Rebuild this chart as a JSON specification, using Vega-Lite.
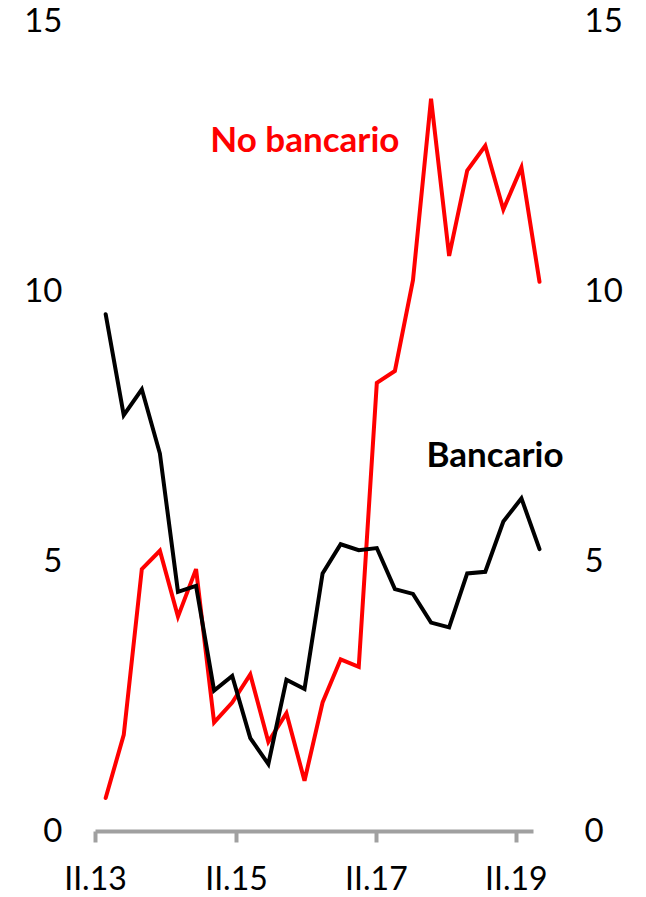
{
  "$schema": "https://vega.github.io/schema/vega-lite/v6.json",
  "width": 438,
  "height": 810,
  "autosize": "none",
  "padding": {"left": 95, "top": 21, "right": 113, "bottom": 66},
  "config": {"view": {"stroke": null}, "font": "Lato"},
  "datasets": {
    "series": [
      {"i": 0, "q": "II.13", "serie": "No bancario", "v": 0.61},
      {"i": 1, "q": "III.13", "serie": "No bancario", "v": 1.78},
      {"i": 2, "q": "IV.13", "serie": "No bancario", "v": 4.85},
      {"i": 3, "q": "I.14", "serie": "No bancario", "v": 5.19},
      {"i": 4, "q": "II.14", "serie": "No bancario", "v": 3.97},
      {"i": 5, "q": "III.14", "serie": "No bancario", "v": 4.85},
      {"i": 6, "q": "IV.14", "serie": "No bancario", "v": 2.01},
      {"i": 7, "q": "I.15", "serie": "No bancario", "v": 2.38},
      {"i": 8, "q": "II.15", "serie": "No bancario", "v": 2.90},
      {"i": 9, "q": "III.15", "serie": "No bancario", "v": 1.65},
      {"i": 10, "q": "IV.15", "serie": "No bancario", "v": 2.18},
      {"i": 11, "q": "I.16", "serie": "No bancario", "v": 0.93},
      {"i": 12, "q": "II.16", "serie": "No bancario", "v": 2.38},
      {"i": 13, "q": "III.16", "serie": "No bancario", "v": 3.18},
      {"i": 14, "q": "IV.16", "serie": "No bancario", "v": 3.04},
      {"i": 15, "q": "I.17", "serie": "No bancario", "v": 8.30},
      {"i": 16, "q": "II.17", "serie": "No bancario", "v": 8.52},
      {"i": 17, "q": "III.17", "serie": "No bancario", "v": 10.20},
      {"i": 18, "q": "IV.17", "serie": "No bancario", "v": 13.56},
      {"i": 19, "q": "I.18", "serie": "No bancario", "v": 10.65},
      {"i": 20, "q": "II.18", "serie": "No bancario", "v": 12.23},
      {"i": 21, "q": "III.18", "serie": "No bancario", "v": 12.69},
      {"i": 22, "q": "IV.18", "serie": "No bancario", "v": 11.51},
      {"i": 23, "q": "I.19", "serie": "No bancario", "v": 12.29},
      {"i": 24, "q": "II.19", "serie": "No bancario", "v": 10.17},
      {"i": 0, "q": "II.13", "serie": "Bancario", "v": 9.57},
      {"i": 1, "q": "III.13", "serie": "Bancario", "v": 7.70},
      {"i": 2, "q": "IV.13", "serie": "Bancario", "v": 8.18},
      {"i": 3, "q": "I.14", "serie": "Bancario", "v": 6.99},
      {"i": 4, "q": "II.14", "serie": "Bancario", "v": 4.43},
      {"i": 5, "q": "III.14", "serie": "Bancario", "v": 4.54},
      {"i": 6, "q": "IV.14", "serie": "Bancario", "v": 2.60},
      {"i": 7, "q": "I.15", "serie": "Bancario", "v": 2.87},
      {"i": 8, "q": "II.15", "serie": "Bancario", "v": 1.72},
      {"i": 9, "q": "III.15", "serie": "Bancario", "v": 1.24},
      {"i": 10, "q": "IV.15", "serie": "Bancario", "v": 2.80},
      {"i": 11, "q": "I.16", "serie": "Bancario", "v": 2.63},
      {"i": 12, "q": "II.16", "serie": "Bancario", "v": 4.77},
      {"i": 13, "q": "III.16", "serie": "Bancario", "v": 5.31},
      {"i": 14, "q": "IV.16", "serie": "Bancario", "v": 5.20},
      {"i": 15, "q": "I.17", "serie": "Bancario", "v": 5.24},
      {"i": 16, "q": "II.17", "serie": "Bancario", "v": 4.48},
      {"i": 17, "q": "III.17", "serie": "Bancario", "v": 4.39},
      {"i": 18, "q": "IV.17", "serie": "Bancario", "v": 3.86},
      {"i": 19, "q": "I.18", "serie": "Bancario", "v": 3.77},
      {"i": 20, "q": "II.18", "serie": "Bancario", "v": 4.77},
      {"i": 21, "q": "III.18", "serie": "Bancario", "v": 4.80},
      {"i": 22, "q": "IV.18", "serie": "Bancario", "v": 5.73},
      {"i": 23, "q": "I.19", "serie": "Bancario", "v": 6.16},
      {"i": 24, "q": "II.19", "serie": "Bancario", "v": 5.22}
    ],
    "labels": [
      {"serie": "No bancario", "i": 11.02, "v": 12.58},
      {"serie": "Bancario", "i": 21.54, "v": 6.75}
    ]
  },
  "layer": [
    {
      "data": {"name": "series"},
      "mark": {"type": "line", "strokeWidth": 4, "strokeJoin": "miter", "strokeCap": "round"},
      "encoding": {
        "x": {
          "field": "i", "type": "quantitative",
          "scale": {"domain": [-0.59, 23.64], "nice": false, "zero": false},
          "axis": {
            "title": null, "grid": false,
            "values": [-0.59, 7.21, 14.95, 22.69],
            "labelExpr": "datum.value < 3 ? 'II.13' : datum.value < 11 ? 'II.15' : datum.value < 19 ? 'II.17' : 'II.19'",
            "domainColor": "#A0A0A0", "domainWidth": 4,
            "tickColor": "#A0A0A0", "tickWidth": 4, "tickSize": 11,
            "labelFont": "Lato", "labelFontSize": 32, "labelColor": "#000000",
            "labelBaseline": "middle",
            "labelPadding": 37, "labelDx": 8.5, "labelFlush": false, "labelOverlap": false
          }
        },
        "y": {
          "field": "v", "type": "quantitative",
          "scale": {"domain": [0, 15], "nice": false},
          "axis": {
            "title": null, "grid": false, "domain": false, "ticks": false,
            "values": [0, 5, 10, 15], "orient": "left",
            "labelFont": "Lato", "labelFontSize": 33, "labelColor": "#000000",
            "labelPadding": 33, "labelFlush": false, "labelOverlap": false
          }
        },
        "color": {
          "field": "serie", "type": "nominal",
          "scale": {"domain": ["No bancario", "Bancario"], "range": ["#FF0000", "#000000"]},
          "legend": null
        },
        "order": {"field": "i"}
      }
    },
    {
      "data": {"name": "labels"},
      "mark": {"type": "text", "font": "Lato", "fontWeight": "bold", "fontSize": 35, "align": "center", "baseline": "alphabetic"},
      "encoding": {
        "x": {
          "field": "i", "type": "quantitative",
          "axis": {
            "title": null, "grid": false,
            "values": [-0.59, 7.21, 14.95, 22.69],
            "labelExpr": "datum.value < 3 ? 'II.13' : datum.value < 11 ? 'II.15' : datum.value < 19 ? 'II.17' : 'II.19'",
            "domainColor": "#A0A0A0", "domainWidth": 4,
            "tickColor": "#A0A0A0", "tickWidth": 4, "tickSize": 11,
            "labelFont": "Lato", "labelFontSize": 32, "labelColor": "#000000",
            "labelBaseline": "middle",
            "labelPadding": 37, "labelDx": 8.5, "labelFlush": false, "labelOverlap": false
          }
        },
        "y": {
          "field": "v", "type": "quantitative",
          "axis": {
            "title": null, "grid": false, "domain": false, "ticks": false,
            "values": [0, 5, 10, 15], "orient": "right",
            "labelFont": "Lato", "labelFontSize": 33, "labelColor": "#000000",
            "labelPadding": 51, "labelFlush": false, "labelOverlap": false
          }
        },
        "text": {"field": "serie"},
        "color": {"field": "serie", "type": "nominal", "legend": null}
      }
    }
  ],
  "resolve": {"scale": {"y": "shared", "x": "shared", "color": "shared"}, "axis": {"y": "independent"}}
}
